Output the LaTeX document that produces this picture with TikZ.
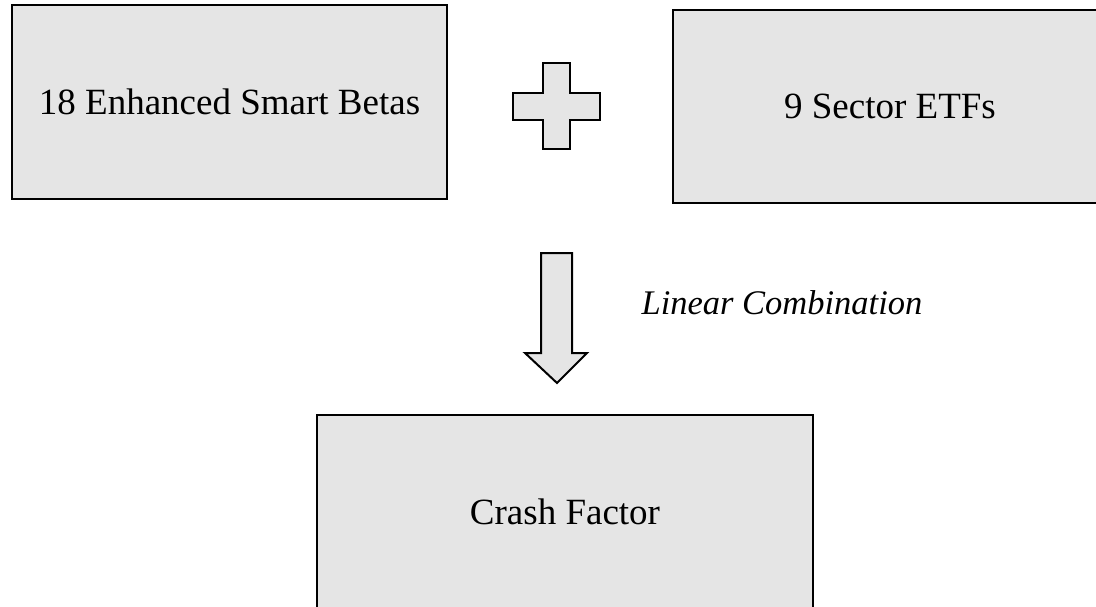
\documentclass[tikz,border=0pt]{standalone}
\usepackage{fontspec}
\setmainfont{Liberation Serif}
\definecolor{boxgray}{HTML}{E5E5E5}
\begin{document}
\begin{tikzpicture}[x=1pt,y=-1pt,
  blockbox/.style={draw=black, fill=boxgray, line width=2pt, rectangle, inner sep=0pt,
    font=\fontsize{37}{42}\selectfont},
  shapefill/.style={draw=black, fill=boxgray, line width=2pt, line join=miter}]
\useasboundingbox (0,0) rectangle (1096,606);
\clip (0,0) rectangle (1096,606);
\node[blockbox, minimum width=435pt, minimum height=194pt] (esb) at (229.5,102) {18 Enhanced Smart Betas};
\node[blockbox, minimum width=434pt, minimum height=193pt] (etf) at (890,106.5) {9 Sector ETFs};
\node[blockbox, minimum width=496pt, minimum height=194pt] (crash) at (565,512) {Crash Factor};
% plus sign
\draw[shapefill] (543,63) -- (570,63) -- (570,93) -- (600,93) -- (600,120) -- (570,120)
  -- (570,149) -- (543,149) -- (543,120) -- (513,120) -- (513,93) -- (543,93) -- cycle;
% block arrow
\draw[shapefill] (541,253) -- (572,253) -- (572,353) -- (587,353) -- (557,383)
  -- (525,353) -- (541,353) -- cycle;
\node[font=\fontsize{34.5}{40}\selectfont\itshape, inner sep=0pt] (lc) at (782,303) {Linear Combination};
\end{tikzpicture}
\end{document}
